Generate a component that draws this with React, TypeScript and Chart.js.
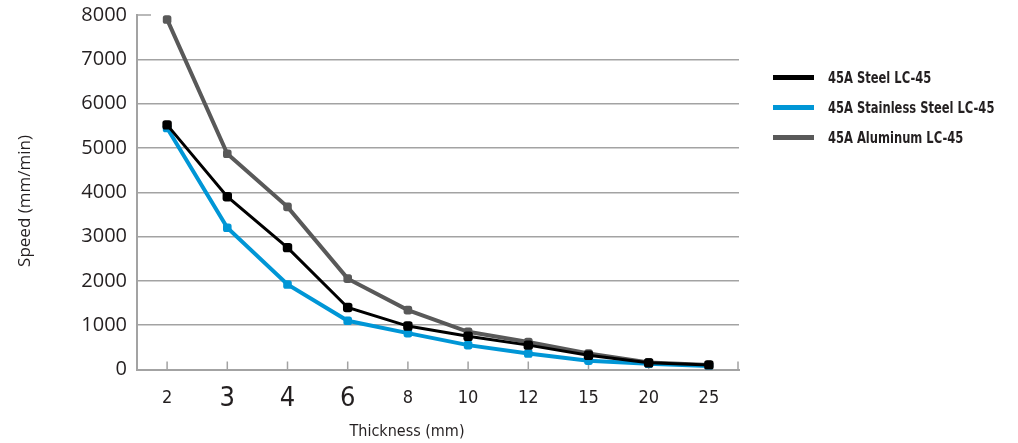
import React, { useEffect, useRef } from "react";
import { Chart, registerables } from "chart.js";

Chart.register(...registerables);

const categories = ["2", "3", "4", "6", "8", "10", "12", "15", "20", "25"];
const bigLabels = ["3", "4", "6"];
const steel = [5520, 3900, 2750, 1400, 980, 750, 550, 320, 150, 100];
const stainless = [5450, 3200, 1920, 1100, 820, 550, 360, 200, 130, 80];
const aluminum = [7900, 4870, 3670, 2050, 1340, 850, 620, 360, 160, 100];
const seriesNames = ["45A Steel LC-45", "45A Stainless Steel LC-45", "45A Aluminum LC-45"];
const seriesColors = ["#000000", "#0096d6", "#595959"];
const yMin = 0;
const yMax = 8000;
const yStep = 1000;
const xTitle = "Thickness (mm)";
const yTitle = "Speed (mm/min)";

const GRID = "#a3a3a3";
const TEXT = "#231f20";
const NARROW = "'Liberation Sans Narrow', 'DejaVu Sans Condensed', 'Arial Narrow', sans-serif";

const decorPlugin = {
  id: "decor",
  beforeDatasetsDraw(chart: any) {
    const { ctx, chartArea, scales } = chart;
    const xs = scales.x;
    const ys = scales.y;
    ctx.save();
    ctx.strokeStyle = GRID;
    ctx.lineWidth = 1.5;
    ctx.beginPath();
    const n = xs.ticks.length;
    for (let i = 0; i < n; i++) {
      const px = xs.getPixelForTick(i);
      ctx.moveTo(px, chartArea.bottom);
      ctx.lineTo(px, chartArea.bottom - 8);
    }
    ctx.moveTo(chartArea.right - 1, chartArea.bottom);
    ctx.lineTo(chartArea.right - 1, chartArea.bottom - 8);
    const ty = ys.getPixelForValue(yMax);
    ctx.moveTo(chartArea.left, ty);
    ctx.lineTo(chartArea.left + 14, ty);
    ctx.stroke();
    ctx.restore();
  },
  afterDraw(chart: any) {
    const { ctx } = chart;
    ctx.save();
    ctx.fillStyle = TEXT;
    ctx.textAlign = "center";
    ctx.textBaseline = "middle";
    ctx.font = `16px ${NARROW}`;
    ctx.fillText(xTitle, 407, 432);
    ctx.translate(25, 201);
    ctx.rotate(-Math.PI / 2);
    ctx.font = "17px 'Open Sans', sans-serif";
    ctx.fillText(yTitle, 0, 0);
    ctx.restore();
  },
};

export default function App() {
  const ref = useRef<HTMLCanvasElement | null>(null);

  useEffect(() => {
    if (!ref.current) return;
    const data = [steel, stainless, aluminum];
    const widths = [3, 4, 4];
    const radii = [5.5, 5, 5];
    const chart = new Chart(ref.current, {
      type: "line",
      data: {
        labels: categories,
        datasets: data.map((d, i) => ({
          label: seriesNames[i],
          data: d,
          borderColor: seriesColors[i],
          backgroundColor: seriesColors[i],
          borderWidth: widths[i],
          pointStyle: "rectRounded",
          pointRadius: radii[i],
          pointBorderWidth: 0,
          pointBackgroundColor: seriesColors[i],
          tension: 0,
          fill: false,
        })),
      },
      options: {
        animation: false,
        responsive: true,
        maintainAspectRatio: false,
        layout: { padding: { top: 15, right: 279, left: 0, bottom: 0 } },
        plugins: {
          legend: { display: false },
          tooltip: { enabled: false },
          title: { display: false },
        },
        scales: {
          x: {
            type: "category",
            offset: true,
            grid: { display: false, drawTicks: false },
            border: { display: true, color: GRID, width: 2 },
            ticks: {
              padding: 18,
              color: TEXT,
              autoSkip: false,
              maxRotation: 0,
              font: (c: any) => {
                const lbl = categories[c.index];
                const big = bigLabels.includes(lbl);
                return { family: NARROW, size: big ? 27 : 18, lineHeight: "22px" } as any;
              },
            },
            afterFit: (s: any) => {
              s.height = 73.5;
              s.paddingLeft = 0;
              s.paddingRight = 0;
            },
          },
          y: {
            min: yMin,
            max: yMax,
            grid: {
              drawTicks: false,
              lineWidth: 1.5,
              color: (c: any) => (c.tick && c.tick.value === yMax ? "rgba(0,0,0,0)" : GRID),
            },
            border: { display: true, color: GRID, width: 2 },
            ticks: {
              stepSize: yStep,
              padding: 10,
              color: TEXT,
              font: { family: "'Open Sans', sans-serif", size: 20 },
              callback: (v: any) => String(v),
            },
            afterFit: (s: any) => {
              s.width = 137;
              s.paddingTop = 0;
              s.paddingBottom = 0;
            },
          },
        },
      },
      plugins: [decorPlugin],
    });
    return () => chart.destroy();
  }, []);

  return (
    <div style={{ position: "fixed", left: 0, top: 0, width: 1018, height: 443, background: "#fff" }}>
      <canvas ref={ref} />
      {seriesNames.map((name, i) => (
        <div
          key={name}
          style={{
            position: "absolute",
            left: 773,
            top: 77 + i * 30 - 12,
            height: 24,
            display: "flex",
            alignItems: "center",
            color: TEXT,
            whiteSpace: "nowrap",
          }}
        >
          <span style={{ display: "inline-block", width: 41, height: 5, background: seriesColors[i], marginRight: 14 }} />
          <span
            style={{
              display: "inline-block",
              fontFamily: NARROW,
              fontWeight: "bold",
              fontSize: 16,
              transform: "scaleX(0.8)",
              transformOrigin: "left center",
            }}
          >
            {name}
          </span>
        </div>
      ))}
    </div>
  );
}
